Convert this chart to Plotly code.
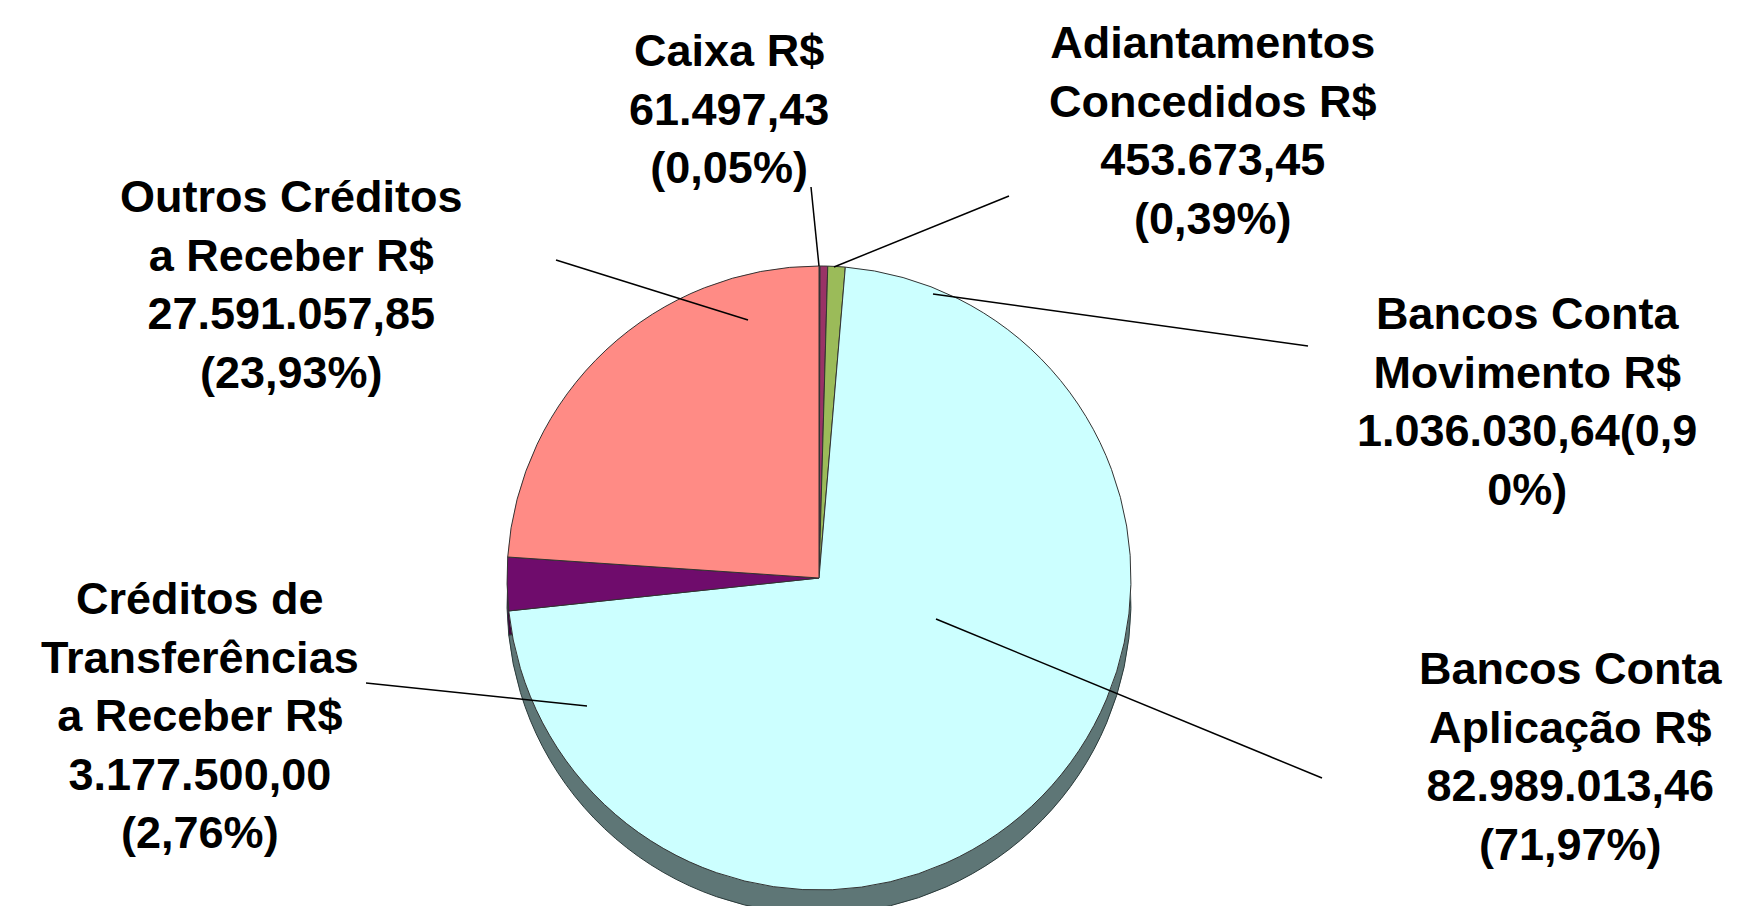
import plotly.graph_objects as go

# ---- data ----
categories = [
    "Caixa",
    "Adiantamentos Concedidos",
    "Bancos Conta Movimento",
    "Bancos Conta Aplicação",
    "Créditos de Transferências a Receber",
    "Outros Créditos a Receber",
]
values = [61497.43, 453673.45, 1036030.64, 82989013.46, 3177500.00, 27591057.85]
label_texts = [
    "Caixa R$<br>61.497,43<br>(0,05%)",
    "Adiantamentos<br>Concedidos R$<br>453.673,45<br>(0,39%)",
    "Bancos Conta<br>Movimento R$<br>1.036.030,64(0,9<br>0%)",
    "Bancos Conta<br>Aplicação R$<br>82.989.013,46<br>(71,97%)",
    "Créditos de<br>Transferências<br>a Receber R$<br>3.177.500,00<br>(2,76%)",
    "Outros Créditos<br>a Receber R$<br>27.591.057,85<br>(23,93%)",
]

top_colors = ["#333366", "#993366", "#9BBB59", "#CCFFFF", "#6F0C6C", "#FF8B85"]
side_colors = ["#1E1E40", "#4F2040", "#5A6E3A", "#5E7676", "#3E063C", "#8A4A48"]

W, H = 1754, 906
cx, cy, r, depth = 811, 570, 312, 24

def px_dom(x0, x1, y0, y1):
    return dict(x=[x0 / W, x1 / W], y=[1 - y1 / H, 1 - y0 / H])

fig = go.Figure()
# side (3D depth) pie, shifted down
fig.add_trace(go.Pie(
    labels=categories, values=values, sort=False, direction="clockwise", rotation=0,
    marker=dict(colors=side_colors, line=dict(color="#2a3a3a", width=1)),
    textinfo="none", hoverinfo="skip", showlegend=False,
    domain=px_dom(cx - r, cx + r, cy - r + depth, cy + r + depth),
))
# top face
fig.add_trace(go.Pie(
    labels=categories, values=values, sort=False, direction="clockwise", rotation=0,
    marker=dict(colors=top_colors, line=dict(color="#333333", width=1)),
    textinfo="none", hoverinfo="label+value+percent", showlegend=False,
    domain=px_dom(cx - r, cx + r, cy - r, cy + r),
))

# label layout (pixel positions) and leader lines
label_pos = [(721, 101), (1205, 122), (1519, 393), (1563, 748), (192, 707), (283, 276)]
leader = [
    ((803, 179), (811, 258)),
    ((1001, 188), (826, 259)),
    ((1300, 338), (925, 286)),
    ((1314, 770), (928, 611)),
    ((358, 675), (579, 698)),
    ((548, 252), (740, 312)),
]

shapes = []
for (p0, p1) in leader:
    shapes.append(dict(type="line", xref="paper", yref="paper",
                       x0=p0[0] / W, y0=1 - p0[1] / H, x1=p1[0] / W, y1=1 - p1[1] / H,
                       line=dict(color="black", width=1.5)))

annotations = []
for txt, (x, y) in zip(label_texts, label_pos):
    annotations.append(dict(text="<b>" + txt + "</b>", x=x / W, y=1 - y / H,
                            xref="paper", yref="paper", showarrow=False,
                            xanchor="center", yanchor="middle", align="center",
                            font=dict(family="Liberation Sans, Arial, sans-serif",
                                      size=45, color="black")))

fig.update_layout(
    width=W, height=H,
    margin=dict(l=0, r=0, t=0, b=0),
    paper_bgcolor="white", plot_bgcolor="white",
    shapes=shapes, annotations=annotations,
)

fig.write_html("out.html")
